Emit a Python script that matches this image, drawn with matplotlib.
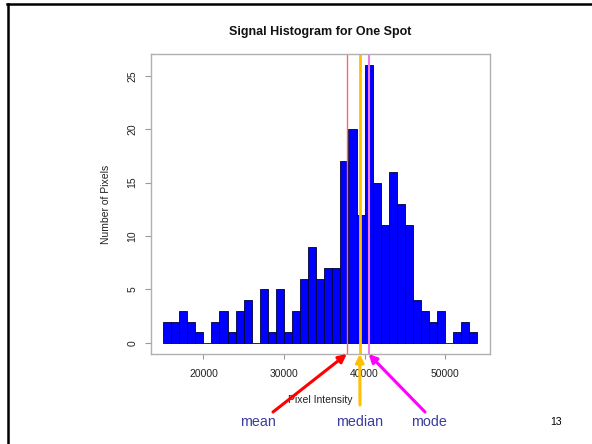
# Histogram of pixel intensities for one spot, with mean / median / mode marked
import numpy as np
import matplotlib.pyplot as plt
from matplotlib.lines import Line2D

plt.rcParams['font.family'] = ['Liberation Sans', 'DejaVu Sans']

# histogram data (bins of width 1000 starting at 15000)
bin_start = 15000
bin_width = 1000
counts = [2, 2, 3, 2, 1, 0, 2, 3, 1, 3, 4, 0, 5, 1, 5, 1, 3, 6, 9, 6,
          7, 7, 17, 20, 12, 26, 15, 11, 16, 13, 11, 4, 3, 2, 3, 0, 1, 2, 1]
left_edges = bin_start + bin_width * np.arange(len(counts))

# summary statistics
mean_val = 37800
median_val = 39400
mode_val = 40500

x_ticks = [20000, 30000, 40000, 50000]
y_ticks = [0, 5, 10, 15, 20, 25]

fig = plt.figure(figsize=(5.92, 4.44), dpi=100)
ax = fig.add_axes([150.5 / 592, 90 / 444, 339.5 / 592, 300 / 444])

ax.bar(left_edges, counts, width=bin_width, align='edge',
       color='#0000ff', edgecolor='#000033', linewidth=0.6)

ax.axvline(mean_val, color='#ff6666', lw=1.0)
ax.axvline(median_val, color='#ffc000', lw=2.0)
ax.axvline(mode_val, color='#ee77ee', lw=1.5)

# R style 4% padding
x_lo, x_hi = left_edges[0], left_edges[-1] + bin_width
pad_x = 0.04 * (x_hi - x_lo)
pad_y = 0.04 * max(counts)
ax.set_xlim(x_lo - pad_x, x_hi + pad_x)
ax.set_ylim(-pad_y, max(counts) + pad_y)

ax.set_xticks(x_ticks)
ax.set_yticks(y_ticks)
ax.set_xticklabels([str(v) for v in x_ticks], fontsize=7.5, color='#222222')
ax.set_yticklabels([str(v) for v in y_ticks], fontsize=7.5, color='#222222',
                   rotation=90, va='center')
ax.tick_params(axis='x', length=3.5, pad=7.5, color='#999999')
ax.tick_params(axis='y', length=4.5, pad=5, color='#999999')
for s in ax.spines.values():
    s.set_color('#b0b0b0')
    s.set_linewidth(1.0)

ax.set_title('Signal Histogram for One Spot', fontsize=9, fontweight='bold',
             color='#111111', pad=14)
ax.set_xlabel('Pixel Intensity', fontsize=7.5, color='#222222')
ax.xaxis.set_label_coords(0.5, -0.135)
ax.set_ylabel('Number of Pixels', fontsize=7.5, color='#222222')
ax.yaxis.set_label_coords(-0.115, 0.5)

# arrows pointing at the statistic lines
y_bot = ax.get_ylim()[0]
arrows = [(mean_val, (273, 32), '#ff0000'),
          (median_val, (360, 39), '#ffc000'),
          (mode_val, (425, 32), '#ff00ff')]
for xv, tail, col in arrows:
    ax.annotate('', xy=(xv, y_bot), xycoords='data',
                xytext=tail, textcoords='figure pixels',
                arrowprops=dict(arrowstyle='-|>', color=col, lw=2.2,
                                mutation_scale=12, shrinkA=0, shrinkB=0),
                annotation_clip=False)

lab_col = '#3c3ca0'
fig.text(258 / 592, 1 - 421.5 / 444, 'mean', fontsize=10.3, color=lab_col,
         ha='center', va='center')
fig.text(360 / 592, 1 - 421.5 / 444, 'median', fontsize=10.3, color=lab_col,
         ha='center', va='center')
fig.text(429 / 592, 1 - 421.5 / 444, 'mode', fontsize=10.3, color=lab_col,
         ha='center', va='center')
fig.text(556 / 592, 1 - 422 / 444, '13', fontsize=7.5, color='black',
         ha='center', va='center')

# slide frame
fig.add_artist(Line2D([7.5 / 592, 7.5 / 592], [0, 1 - 4 / 444],
                      transform=fig.transFigure, color='black', lw=1.8))
fig.add_artist(Line2D([6.5 / 592, 1], [1 - 4 / 444, 1 - 4 / 444],
                      transform=fig.transFigure, color='black', lw=1.8))

fig.savefig('out.png', dpi=100)
